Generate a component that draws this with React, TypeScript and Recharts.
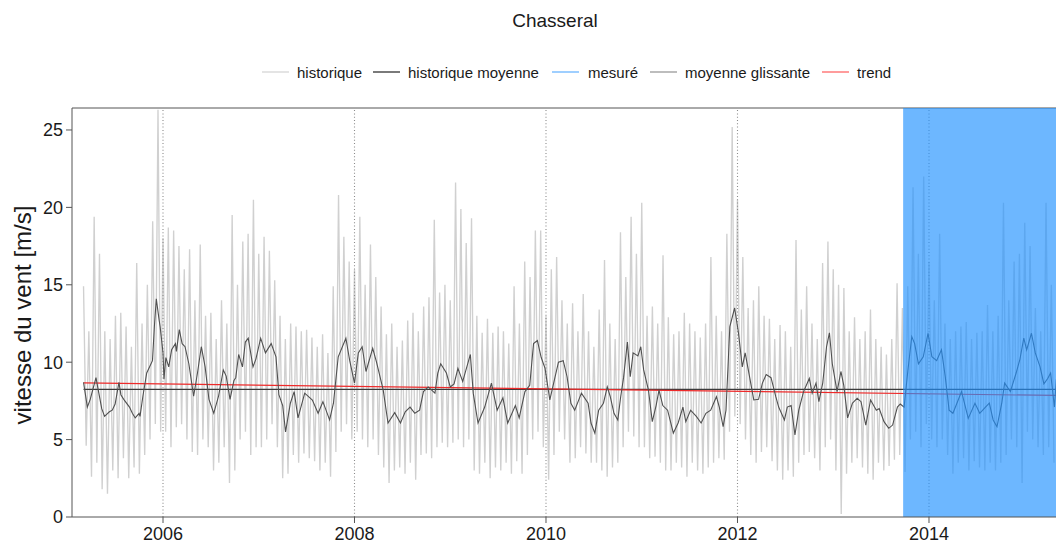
import { LineChart, Line, XAxis, YAxis, ReferenceLine, ReferenceArea } from "recharts";

const FONT = "'Liberation Sans', Arial, Helvetica, sans-serif";

const xTicks = [2006, 2008, 2010, 2012, 2014];
const yTicks = [0, 5, 10, 15, 20, 25];
const yearLines = [2006, 2008, 2010, 2012, 2014];

const hist2005 = [14.9, 4.6, 12.0, 2.6, 19.4, 3.5, 17.0, 1.8, 12.0, 1.5, 11.5, 3.0, 13.0, 2.5, 13.2, 3.8, 12.3, 2.5, 11.0, 3.2, 16.4, 2.8, 12.5, 4.0, 15.0, 5.0, 19.1, 6.0, 26.3, 5.5];
const hist2006 = [18.0, 5.5, 18.7, 4.5, 18.5, 5.8, 17.5, 6.0, 16.0, 5.0, 17.3, 4.2, 14.0, 4.0, 17.6, 5.0, 13.0, 4.5, 13.2, 3.0, 11.5, 3.5, 14.0, 4.5, 12.5, 2.2, 19.5, 3.0, 15.0, 5.0, 17.8, 5.5, 18.3, 4.0, 20.5, 4.5];
const hist2007 = [17.0, 4.5, 18.1, 5.0, 17.2, 6.0, 15.3, 4.5, 13.0, 2.5, 11.5, 2.8, 12.5, 4.0, 12.3, 3.5, 12.0, 4.1, 12.1, 3.8, 11.6, 3.6, 11.0, 3.0, 11.8, 3.5, 10.6, 2.6, 14.9, 4.2, 20.8, 5.5, 18.1, 6.0, 16.5, 5.0];
const hist2008 = [16.0, 5.5, 19.4, 5.0, 15.0, 4.5, 17.6, 5.0, 15.5, 4.0, 13.6, 3.2, 11.8, 2.2, 12.5, 3.0, 11.0, 3.2, 11.4, 2.8, 12.7, 3.5, 13.2, 2.4, 12.0, 4.0, 13.6, 4.1, 14.2, 3.8, 19.2, 4.5, 14.5, 4.8, 15.0, 4.5];
const hist2009 = [14.0, 4.8, 21.6, 5.0, 19.9, 4.5, 17.7, 5.0, 19.3, 3.0, 13.0, 2.8, 11.9, 3.5, 12.8, 2.5, 11.9, 3.2, 12.3, 3.0, 12.0, 3.5, 11.2, 2.8, 14.9, 3.6, 12.5, 2.8, 16.5, 4.0, 15.5, 5.0, 18.5, 5.5, 18.5, 4.5];
const hist2010 = [13.0, 2.4, 16.0, 4.0, 16.8, 5.5, 14.0, 5.0, 12.5, 3.5, 13.8, 3.8, 12.0, 4.5, 14.4, 4.1, 12.0, 3.5, 11.0, 3.5, 13.4, 3.0, 16.6, 2.6, 12.5, 3.2, 11.5, 3.5, 18.4, 4.5, 15.5, 5.5, 19.4, 5.2, 17.0, 4.5];
const hist2011 = [20.3, 4.5, 13.0, 3.8, 13.6, 3.9, 12.5, 3.5, 16.9, 3.0, 12.9, 3.0, 11.8, 3.5, 12.0, 3.2, 13.2, 2.6, 12.5, 3.5, 12.0, 3.0, 11.6, 2.8, 12.5, 3.2, 16.8, 3.5, 13.0, 3.8, 12.0, 3.7, 18.3, 5.5, 25.2, 6.5];
const hist2012 = [20.5, 6.0, 16.8, 5.0, 13.5, 4.0, 14.0, 3.5, 14.9, 4.2, 13.0, 4.5, 12.8, 3.6, 11.5, 3.0, 12.4, 2.4, 12.0, 3.0, 11.0, 2.6, 17.9, 3.5, 13.4, 4.0, 14.9, 4.2, 12.5, 3.8, 11.5, 3.0, 16.4, 4.5, 17.8, 5.0];
const hist2013 = [16.0, 3.0, 15.0, 0.2, 14.8, 2.8, 12.0, 3.5, 12.9, 3.8, 11.5, 3.2, 12.0, 2.8, 13.4, 2.4, 11.5, 3.5, 11.0, 3.0, 10.5, 3.3, 11.5, 3.7, 15.1, 4.0, 13.5, 2.9, 14.9, 5.0, 21.3, 5.5, 17.0, 4.5, 22.0, 6.0];
const hist2014 = [16.5, 5.0, 14.0, 4.5, 18.3, 5.0, 12.5, 4.0, 11.5, 2.8, 12.0, 3.5, 12.3, 3.8, 12.6, 3.0, 11.5, 3.6, 11.9, 3.2, 12.0, 3.0, 13.7, 3.5, 12.0, 3.0, 13.0, 3.5, 20.3, 4.0, 14.0, 5.0, 16.5, 4.5, 17.0, 2.2];
const hist2015 = [19.0, 5.5, 17.5, 5.0, 13.5, 4.5, 12.0, 4.0, 20.3, 4.5, 15.0, 3.5];

const histBlocks: [number, number[]][] = [
  [2005.17, hist2005],
  [2006, hist2006],
  [2007, hist2007],
  [2008, hist2008],
  [2009, hist2009],
  [2010, hist2010],
  [2011, hist2011],
  [2012, hist2012],
  [2013, hist2013],
  [2014, hist2014],
  [2015, hist2015],
];
const HIST_STEP = 1 / 36;

// moyenne glissante: [decimal year, m/s]
const movingAvg: [number, number][] = [
  [2005.17, 8.7], [2005.21, 7.1], [2005.24, 7.6], [2005.27, 8.3], [2005.3, 9.0], [2005.33, 8.0], [2005.36, 7.0], [2005.39, 6.5],
  [2005.44, 6.8], [2005.47, 6.9], [2005.5, 7.3], [2005.54, 8.7], [2005.56, 7.9], [2005.59, 7.6], [2005.65, 7.1], [2005.68, 6.7],
  [2005.71, 6.4], [2005.75, 6.7], [2005.76, 6.5], [2005.79, 7.8], [2005.83, 9.3], [2005.89, 10.1], [2005.91, 12.3], [2005.93, 14.1],
  [2005.96, 12.7], [2005.97, 12.3], [2006.0, 10.6], [2006.01, 8.9], [2006.03, 10.3], [2006.06, 9.7], [2006.09, 10.8], [2006.13, 11.2],
  [2006.14, 10.7], [2006.17, 12.1], [2006.2, 11.2], [2006.23, 11.0], [2006.27, 9.9], [2006.32, 7.8], [2006.36, 9.3], [2006.4, 11.0],
  [2006.44, 9.7], [2006.48, 7.6], [2006.53, 6.7], [2006.58, 7.8], [2006.63, 9.5], [2006.66, 9.1], [2006.7, 7.6], [2006.74, 8.8],
  [2006.76, 9.0], [2006.79, 10.5], [2006.83, 9.7], [2006.86, 11.3], [2006.89, 11.55], [2006.94, 9.7], [2006.97, 10.2], [2007.02, 11.55],
  [2007.07, 10.6], [2007.13, 11.2], [2007.18, 10.35], [2007.21, 7.9], [2007.25, 7.2], [2007.28, 5.5], [2007.33, 7.35], [2007.37, 8.1],
  [2007.41, 6.4], [2007.48, 8.0], [2007.56, 7.56], [2007.62, 6.7], [2007.67, 7.45], [2007.74, 6.27], [2007.78, 7.35], [2007.83, 10.35],
  [2007.91, 11.55], [2007.95, 10.1], [2008.0, 8.65], [2008.04, 10.6], [2008.08, 11.0], [2008.12, 9.4], [2008.19, 10.9], [2008.23, 10.0],
  [2008.3, 8.2], [2008.35, 6.07], [2008.42, 6.74], [2008.48, 6.07], [2008.53, 6.8], [2008.58, 7.1], [2008.63, 6.7], [2008.68, 6.9],
  [2008.72, 8.1], [2008.77, 8.4], [2008.84, 8.0], [2008.87, 9.3], [2008.9, 9.9], [2008.96, 9.3], [2009.0, 8.4], [2009.04, 8.6],
  [2009.08, 9.6], [2009.13, 8.75], [2009.21, 10.5], [2009.24, 8.0], [2009.29, 6.07], [2009.36, 7.1], [2009.43, 8.65], [2009.49, 6.9],
  [2009.55, 7.7], [2009.6, 6.07], [2009.68, 7.2], [2009.72, 6.4], [2009.78, 8.1], [2009.83, 8.5], [2009.87, 11.2], [2009.91, 11.4],
  [2009.95, 10.3], [2009.99, 9.6], [2010.04, 7.56], [2010.08, 8.65], [2010.13, 10.0], [2010.18, 10.1], [2010.22, 9.06], [2010.26, 7.35],
  [2010.3, 6.9], [2010.37, 8.0], [2010.44, 7.35], [2010.47, 6.07], [2010.51, 5.42], [2010.55, 6.9], [2010.6, 7.35], [2010.64, 8.4],
  [2010.67, 7.8], [2010.71, 6.7], [2010.75, 6.27], [2010.78, 7.77], [2010.81, 9.0], [2010.85, 11.3], [2010.88, 9.06], [2010.91, 10.6],
  [2010.96, 10.4], [2010.99, 11.0], [2011.02, 9.5], [2011.07, 8.2], [2011.11, 6.16], [2011.15, 7.2], [2011.18, 8.2], [2011.22, 7.2],
  [2011.27, 6.9], [2011.33, 5.42], [2011.38, 6.07], [2011.43, 7.1], [2011.46, 6.16], [2011.51, 6.9], [2011.57, 6.5], [2011.62, 6.07],
  [2011.67, 6.7], [2011.72, 6.9], [2011.78, 7.77], [2011.81, 7.1], [2011.85, 5.83], [2011.88, 6.9], [2011.92, 12.3], [2011.97, 13.5],
  [2012.01, 11.9], [2012.05, 9.7], [2012.08, 10.6], [2012.11, 9.6], [2012.17, 7.56], [2012.22, 7.6], [2012.26, 8.65], [2012.3, 9.2],
  [2012.35, 9.0], [2012.4, 7.77], [2012.43, 7.1], [2012.49, 6.27], [2012.52, 7.1], [2012.56, 7.2], [2012.6, 5.3], [2012.64, 6.9],
  [2012.69, 8.1], [2012.75, 8.95], [2012.78, 8.0], [2012.82, 8.65], [2012.85, 7.45], [2012.89, 8.65], [2012.93, 11.0], [2012.96, 11.9],
  [2012.99, 9.9], [2013.04, 8.1], [2013.08, 9.4], [2013.11, 8.5], [2013.15, 6.4], [2013.2, 7.35], [2013.25, 7.67], [2013.29, 7.45],
  [2013.34, 5.94], [2013.39, 7.56], [2013.45, 6.9], [2013.48, 7.0], [2013.53, 6.16], [2013.58, 5.73], [2013.62, 5.94], [2013.67, 7.1],
  [2013.7, 7.3], [2013.74, 7.1], [2013.78, 9.5], [2013.82, 11.65], [2013.85, 11.2], [2013.89, 9.9], [2013.94, 10.35], [2013.99, 11.87],
  [2014.03, 10.35], [2014.08, 10.1], [2014.13, 10.8], [2014.17, 9.06], [2014.21, 6.9], [2014.25, 6.7], [2014.34, 8.1], [2014.41, 6.37],
  [2014.48, 7.35], [2014.53, 6.7], [2014.59, 7.1], [2014.63, 7.35], [2014.67, 6.27], [2014.71, 5.83], [2014.76, 7.35], [2014.79, 8.65],
  [2014.85, 8.1], [2014.91, 9.3], [2014.95, 10.2], [2014.99, 11.55], [2015.02, 10.8], [2015.07, 11.87], [2015.11, 10.6], [2015.16, 9.7],
  [2015.2, 8.6], [2015.24, 8.95], [2015.27, 9.3], [2015.31, 7.1], [2015.33, 8.9],
];

const SERIES_START = 2005.17;
const SERIES_END = 2015.33;
const HIST_MEAN = 8.25;
const TREND_START = 8.66;
const TREND_END = 7.85;
const MEASURED_START = 2013.73;

const X_MIN = 2005.0496;
const X_MAX = 2015.3264;
const Y_MAX = 26.42;

const legendItems = [
  { label: "historique", color: "#e4e4e4", lineX: 262, textX: 297 },
  { label: "historique moyenne", color: "#7a7a7a", lineX: 373, textX: 408 },
  { label: "mesuré", color: "#9fcfff", lineX: 552, textX: 588 },
  { label: "moyenne glissante", color: "#bdbdbd", lineX: 650, textX: 685 },
  { label: "trend", color: "#ff9c9c", lineX: 822, textX: 857 },
];

const histData = histBlocks.flatMap(([start, vals]) =>
  vals.map((v, i) => ({ t: start + i * HIST_STEP, v }))
);
const maData = movingAvg.map(([t, v]) => ({ t, v }));
const meanData = [
  { t: SERIES_START, v: HIST_MEAN },
  { t: SERIES_END, v: HIST_MEAN },
];
const trendData = [
  { t: SERIES_START, v: TREND_START },
  { t: SERIES_END, v: TREND_END },
];

export default function App() {
  return (
    <div style={{ position: "absolute", left: 0, top: 0, width: 1056, height: 548, background: "#fff", fontFamily: FONT }}>
      <LineChart width={1056} height={548} margin={{ top: 108, right: 0, bottom: 0, left: 0 }}>
        <XAxis
          type="number"
          dataKey="t"
          domain={[X_MIN, X_MAX]}
          allowDataOverflow
          ticks={xTicks}
          height={31}
          tickSize={6}
          tickMargin={4}
          stroke="#555"
          tick={{ fontSize: 18, fill: "#1a1a1a", fontFamily: FONT }}
        />
        <YAxis
          type="number"
          domain={[0, Y_MAX]}
          allowDataOverflow
          ticks={yTicks}
          width={72}
          tickSize={6}
          tickMargin={3}
          stroke="#555"
          tick={{ fontSize: 18, fill: "#1a1a1a", fontFamily: FONT }}
        />
        <Line data={histData} dataKey="v" type="linear" stroke="#d0d0d0" strokeWidth={1.35} dot={false} isAnimationActive={false} />
        {yearLines.map((yr) => (
          <ReferenceLine key={yr} x={yr} stroke="#8a8a8a" strokeWidth={1.1} strokeDasharray="1 2.3" />
        ))}
        <Line data={meanData} dataKey="v" type="linear" stroke="#3a3a3a" strokeWidth={1.3} dot={false} isAnimationActive={false} />
        <Line data={trendData} dataKey="v" type="linear" stroke="#ee2a2a" strokeWidth={1.2} dot={false} isAnimationActive={false} />
        <Line data={maData} dataKey="v" type="linear" stroke="#505050" strokeWidth={1.1} dot={false} isAnimationActive={false} />
        <ReferenceLine y={Y_MAX} stroke="#555" strokeWidth={1} />
        <ReferenceArea
          x1={MEASURED_START}
          x2={X_MAX}
          y1={0}
          y2={Y_MAX}
          fill="#1e90ff"
          fillOpacity={0.65}
          stroke="none"
          zIndex={450}
        />
      </LineChart>
      <svg width={1056} height={548} style={{ position: "absolute", left: 0, top: 0, pointerEvents: "none" }}>
        <text x={555} y={27} textAnchor="middle" fontSize={19} fill="#1a1a1a" fontFamily={FONT}>
          Chasseral
        </text>
        <text
          x={0}
          y={0}
          transform="translate(31, 315) rotate(-90)"
          textAnchor="middle"
          fontSize={24}
          fill="#1a1a1a"
          fontFamily={FONT}
        >
          vitesse du vent [m/s]
        </text>
        {legendItems.map((it) => (
          <g key={it.label}>
            <line x1={it.lineX} x2={it.lineX + 27} y1={72} y2={72} stroke={it.color} strokeWidth={2} />
            <text x={it.textX} y={77.5} fontSize={15} fill="#1a1a1a" fontFamily={FONT}>
              {it.label}
            </text>
          </g>
        ))}
      </svg>
    </div>
  );
}
